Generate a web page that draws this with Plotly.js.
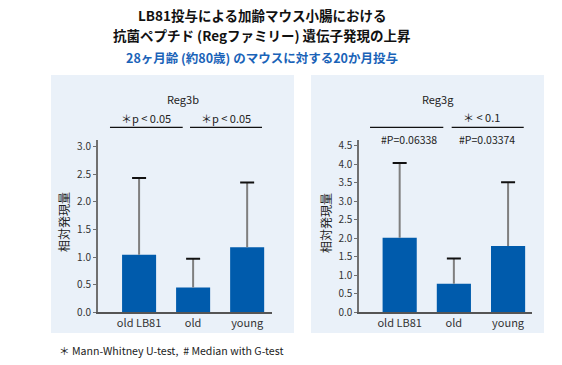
<!DOCTYPE html>
<html><head><meta charset="utf-8">
<script src="https://cdn.plot.ly/plotly-3.0.1.min.js"></script>
<style>html,body{margin:0;padding:0;background:#fff}#chart{width:562px;height:365px}</style>
</head><body><div id="chart"></div>
<script>
const categories = ['old LB81', 'old', 'young'];
const reg3bMean = [1.04, 0.45, 1.18];
const reg3bErr  = [1.39, 0.52, 1.17];
const reg3gMean = [2.01, 0.77, 1.79];
const reg3gErr  = [2.02, 0.68, 1.72];
const yTicksB = [0, 0.5, 1, 1.5, 2, 2.5, 3];
const yTicksG = [0, 0.5, 1, 1.5, 2, 2.5, 3, 3.5, 4, 4.5];

const FONT = '"Noto Sans CJK JP", "Noto Sans", sans-serif';
const BAR = '#005bac';
const tops = (m, e) => m.map((v, i) => v + e[i]);

function barTrace(mean, err, xa, ya) {
  return {type: 'bar', x: categories, y: mean, xaxis: xa, yaxis: ya, width: 0.63,
    marker: {color: BAR}, hoverinfo: 'none',
    error_y: {type: 'data', symmetric: false, array: err, arrayminus: err.map(() => 0),
      color: '#7f7f7f', thickness: 2, width: 0}};
}
function capTrace(mean, err, xa, ya) {
  return {type: 'scatter', mode: 'markers', x: categories, y: tops(mean, err), xaxis: xa, yaxis: ya,
    marker: {symbol: 'line-ew', size: 10, line: {color: '#111', width: 2}}, hoverinfo: 'none'};
}

const data = [
  barTrace(reg3bMean, reg3bErr, 'x', 'y'), capTrace(reg3bMean, reg3bErr, 'x', 'y'),
  barTrace(reg3gMean, reg3gErr, 'x2', 'y2'), capTrace(reg3gMean, reg3gErr, 'x2', 'y2')
];

const xBase = {type: 'category', showgrid: false, zeroline: false, showline: true, linecolor: '#555', linewidth: 1.5,
  ticks: '', tickfont: {family: FONT, size: 11, color: '#333'}, fixedrange: true};
const yBase = {showgrid: false, zeroline: false, showline: true, linecolor: '#707070', linewidth: 2,
  ticks: 'outside', ticklen: 3, tickcolor: '#707070', tickwidth: 1, tickformat: '.1f',
  tickfont: {family: FONT, size: 10, color: '#333'}, fixedrange: true};

const lineShape = (x0, x1, y) => ({type: 'line', xref: 'paper', yref: 'paper', x0: x0, x1: x1, y0: y, y1: y,
  line: {color: '#111', width: 1.2}});
const ann = (text, x, y, size, extra) => Object.assign({text: text, x: x, y: y, xref: 'paper', yref: 'paper',
  showarrow: false, font: {family: FONT, size: size, color: '#222'}, xanchor: 'center', yanchor: 'middle'}, extra || {});

const layout = {
  width: 562, height: 365, margin: {l: 0, r: 0, t: 0, b: 0},
  paper_bgcolor: '#ffffff', plot_bgcolor: 'rgba(0,0,0,0)', showlegend: false, bargap: 0.37,
  xaxis: Object.assign({}, xBase, {domain: [0.1744, 0.484], range: [-0.76, 2.46], anchor: 'y'}),
  yaxis: Object.assign({}, yBase, {domain: [0.1444, 0.6164], range: [0, 3.12], tickvals: yTicksB, anchor: 'x'}),
  xaxis2: Object.assign({}, xBase, {domain: [0.6393, 0.946], range: [-0.745, 2.435], anchor: 'y2'}),
  yaxis2: Object.assign({}, yBase, {domain: [0.1444, 0.6164], range: [0, 4.65], tickvals: yTicksG, anchor: 'x2'}),
  shapes: [
    {type: 'rect', xref: 'paper', yref: 'paper', x0: 51/562, x1: 294/562, y0: 1-333/365, y1: 1-75/365,
      fillcolor: '#eaf1f9', line: {width: 0}, layer: 'below'},
    {type: 'rect', xref: 'paper', yref: 'paper', x0: 311/562, x1: 544/562, y0: 1-333/365, y1: 1-75/365,
      fillcolor: '#eaf1f9', line: {width: 0}, layer: 'below'},
    lineShape(0.1957, 0.3251, 0.6512), lineShape(0.3381, 0.4662, 0.6512),
    lineShape(0.6584, 0.7888, 0.6512), lineShape(0.8037, 0.9319, 0.6512)
  ],
  annotations: [
    ann('<b>LB81投与による加齢マウス小腸における</b>', 0.4662, 0.9589, 13.5, {font: {family: FONT, size: 13.5, color: '#111'}}),
    ann('<b>抗菌ペプチド (Regファミリー) 遺伝子発現の上昇</b>', 0.4662, 0.9041, 13.5, {font: {family: FONT, size: 13.5, color: '#111'}}),
    ann('<b>28ヶ月齢 (約80歳) のマウスに対する20か月投与</b>', 0.4662, 0.8438, 12.5, {font: {family: FONT, size: 12.5, color: '#1a63b8'}}),
    ann('Reg3b', 0.3256, 0.7288, 11),
    ann('＊p < 0.05', 0.2598, 0.6775, 11),
    ann('＊p < 0.05', 0.4021, 0.6775, 11),
    ann('Reg3g', 0.7794, 0.7288, 11),
    ann('＊ < 0.1', 0.8571, 0.6795, 11),
    ann('#P=0.06338', 0.7278, 0.6184, 10.5),
    ann('#P=0.03374', 0.866, 0.6184, 10.5),
    ann('相対発現量', 0.1139, 0.3918, 12, {textangle: -90}),
    ann('相対発現量', 0.5783, 0.389, 12, {textangle: -90}),
    ann('＊ Mann-Whitney U-test,  # Median with G-test', 0.1014, 0.0384, 10.6, {xanchor: 'left'})
  ]
};

Plotly.newPlot('chart', data, layout, {displayModeBar: false, staticPlot: true});
</script></body></html>
